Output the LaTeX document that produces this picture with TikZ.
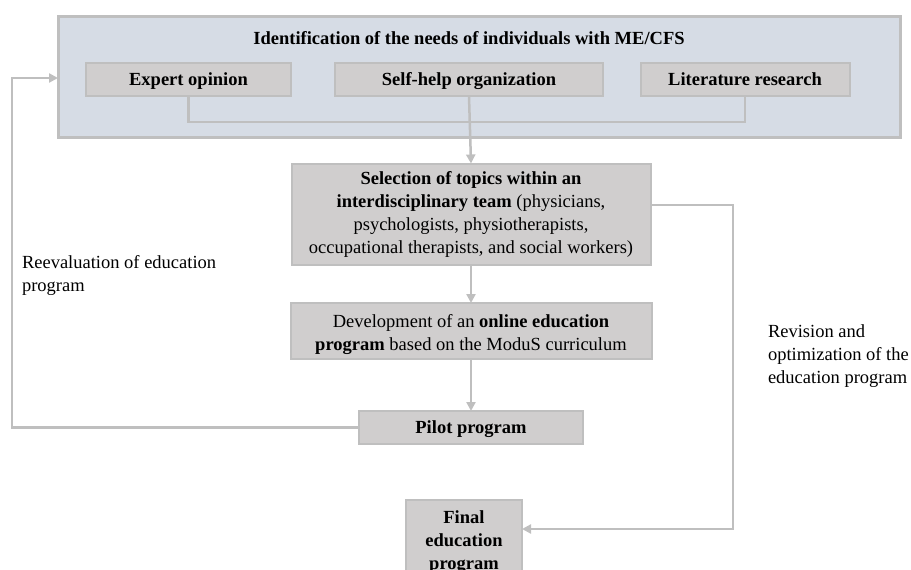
\documentclass[tikz,border=0pt]{standalone}
\usepackage{fontspec}
\setmainfont{Liberation Serif}
\usetikzlibrary{arrows.meta}
\definecolor{outerfill}{HTML}{D6DCE5}
\definecolor{boxfill}{HTML}{D0CECE}
\definecolor{linegray}{HTML}{BFBFBF}
\begin{document}
\begin{tikzpicture}[x=1pt,y=-1pt,
  every node/.style={font=\fontsize{18.5}{23}\selectfont, inner sep=0pt, outer sep=0pt},
  outerbox/.style={draw=linegray, line width=3pt, fill=outerfill, rectangle},
  stepbox/.style={draw=linegray, line width=2pt, fill=boxfill, rectangle, align=center},
  onebox/.style={stepbox, text height=12pt, text depth=1pt, font=\fontsize{18.5}{23}\selectfont\bfseries},
  conn/.style={draw=linegray, line width=2.5pt},
  arr/.style={conn, -{Triangle[length=9pt,width=9pt]}},
  lbl/.style={align=left, text=black}
]
\useasboundingbox (0,0) rectangle (911,570);
\node[outerbox, minimum width=842pt, minimum height=121pt] (outer) at (479,76.5) {};
\node[font=\fontsize{18.5}{23}\selectfont\bfseries] (title) at (469,38) {Identification of the needs of individuals with ME/CFS};
\node[onebox, minimum width=205pt, minimum height=33pt] (exp) at (188.5,79.5) {Expert opinion};
\node[onebox, minimum width=268pt, minimum height=33pt] (self) at (469,79.5) {Self-help organization};
\node[onebox, minimum width=209pt, minimum height=33pt] (lit) at (745,79.5) {Literature research};
\node[stepbox, minimum width=359pt, minimum height=101pt] (sel) at (471,214)
  {\textbf{Selection of topics within an}\\\textbf{interdisciplinary team} (physicians,\\psychologists, physiotherapists,\\occupational therapists, and social workers)};
\node[stepbox, minimum width=361pt, minimum height=56pt] (dev) at (471,331)
  {\rule{0pt}{20pt}Development of an \textbf{online education}\\\textbf{program} based on the ModuS curriculum};
\node[onebox, minimum width=224pt, minimum height=33pt] (pilot) at (471,427.5) {Pilot program};
\node[stepbox, minimum width=116pt, minimum height=84pt, anchor=north, font=\fontsize{18.5}{23}\selectfont\bfseries] (fin) at (464,500)
  {Final\\education\\program};
\node[lbl, anchor=west] (reeval) at (22,275.5) {Reevaluation of education\\program};
\node[lbl, anchor=west] (revis) at (768,356) {Revision and\\optimization of the\\education program};
% connectors
\coordinate (j) at (0,122);
\draw[conn] (exp.south) -- (exp.south |- j) -- (lit.south |- j) -- (lit.south);
\draw[arr] (self.south) -- (sel.north);
\draw[arr] (sel.south) -- (dev.north);
\draw[arr] (dev.south) -- (pilot.north);
\coordinate (r1) at (733,205);
\coordinate (r2) at (733,529);
\draw[arr] (sel.east |- r1) -- (r1) -- (r2) -- (fin.east |- r2);
\coordinate (l1) at (12,427.5);
\coordinate (l2) at (12,78);
\draw[arr] (pilot.west) -- (l1) -- (l2) -- (outer.west |- l2);
\end{tikzpicture}
\end{document}
